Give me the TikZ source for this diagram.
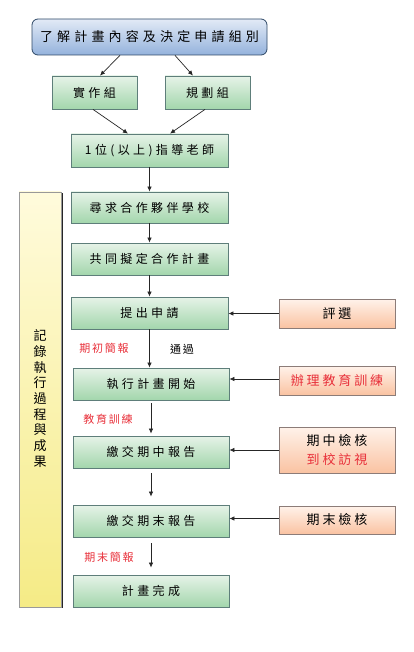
\documentclass[tikz,border=0pt]{standalone}
\usepackage{fontspec}
\usepackage{xcolor}
\usetikzlibrary{arrows.meta, positioning, shadows}
\newfontfamily\cjk{Noto Sans CJK TC}
\newfontfamily\cjkwide[LetterSpace=32]{Noto Sans CJK TC}
\newfontfamily\cjkmid[LetterSpace=22]{Noto Sans CJK TC}
\newfontfamily\cjkstep[LetterSpace=28]{Noto Sans CJK TC}
\newfontfamily\cjknarrow[LetterSpace=16]{Noto Sans CJK TC}
\definecolor{stepgreentop}{HTML}{E6F3E8}
\definecolor{stepgreenbot}{HTML}{A3D6AC}
\definecolor{stepgreenline}{HTML}{5E7E7A}
\definecolor{peachtop}{HTML}{FFF2EA}
\definecolor{peachbot}{HTML}{FAC3A2}
\definecolor{peachline}{HTML}{8C7C78}
\definecolor{bluetop}{HTML}{E2EAF6}
\definecolor{bluebot}{HTML}{94B2DC}
\definecolor{blueline}{HTML}{2E4866}
\definecolor{bartop}{HTML}{FFFBDC}
\definecolor{barbot}{HTML}{F5EB86}
\definecolor{notered}{HTML}{E8303A}

\begin{document}
\begin{tikzpicture}[
        x=1pt, y=-1pt,
        greenbox/.style={draw=stepgreenline, line width=0.8pt,
                         top color=stepgreentop, bottom color=stepgreenbot,
                         minimum height=32pt, inner sep=0pt,
                         font=\fontsize{12}{14}\cjkstep},
        peachbox/.style={draw=peachline, line width=0.8pt,
                         top color=peachtop, bottom color=peachbot,
                         minimum width=116pt, inner sep=0pt, align=center,
                         font=\fontsize{13}{19}\cjkmid},
        note/.style={font=\fontsize{11}{13}\cjknarrow, inner sep=0pt},
        arr/.style={-{Latex[length=5pt, width=4.5pt]}, line width=0.7pt, color=black!85}
      ]
      \useasboundingbox (0,0) rectangle (414,652);
      \node[draw=blueline, line width=0.8pt, rounded corners=6pt,
            top color=bluetop, bottom color=bluebot,
            minimum width=235pt, minimum height=36pt,
            font=\fontsize{13}{15}\cjkwide] (topic) at (149.5,37) {了解計畫內容及決定申請組別};
      \node[greenbox, minimum width=85pt, minimum height=33pt] (practice) at (94.5,92.5) {實作組};
      \node[greenbox, minimum width=85pt, minimum height=33pt] (design) at (207.5,92.5) {規劃組};
      \node[greenbox, minimum width=157pt, minimum height=33pt] (mentor) at (149.5,150.5) {1位(以上)指導老師};
      \node[greenbox, minimum width=157pt, minimum height=31pt] (partner) at (149.5,207.5) {尋求合作夥伴學校};
      \node[greenbox, minimum width=157pt] (coplan) at (149.5,259) {共同擬定合作計畫};
      \node[greenbox, minimum width=157pt] (apply) at (149.5,313) {提出申請};
      \node[greenbox, minimum width=156pt] (start) at (151,384) {執行計畫開始};
      \node[greenbox, minimum width=156pt] (midrep) at (151,452) {繳交期中報告};
      \node[greenbox, minimum width=156pt] (finrep) at (151,521) {繳交期末報告};
      \node[greenbox, minimum width=156pt] (done) at (151,591) {計畫完成};

      \node[peachbox, minimum height=29pt] (review) at (337,313.5) {評選};
      \node[peachbox, minimum height=29pt, text=notered] (training) at (337,380.5) {辦理教育訓練};
      \node[peachbox, minimum height=46pt] (midcheck) at (337,450) {期中檢核\\\textcolor{notered}{到校訪視}};
      \node[peachbox, minimum height=28pt] (fincheck) at (337,520) {期末檢核};

      \node[draw=black!40, line width=0.5pt, top color=bartop, bottom color=barbot,
            drop shadow={shadow xshift=1.6pt, shadow yshift=-1.2pt, opacity=1, fill=black!85},
            minimum width=42pt, minimum height=415pt, inner sep=0pt] (record) at (40,399.5) {};
      \node[align=center, font=\fontsize{13}{15.7}\cjk] (recordtext) at (40,398.5)
        {記\\錄\\執\\行\\過\\程\\與\\成\\果};

      \node[note, text=notered] (kickoff) at (104,348) {期初簡報};
      \node[note] (passed) at (182,349) {通過};
      \node[note, text=notered] (edu) at (108,419) {教育訓練};
      \node[note, text=notered] (closing) at (109,557) {期末簡報};

      \draw[arr] ([xshift=-29.5pt]topic.south) -- ([xshift=5.5pt]practice.north);
      \draw[arr] ([xshift=25.5pt]topic.south) -- ([xshift=-14.5pt]design.north);
      \draw[arr] ([xshift=-1.5pt]practice.south) -- ([xshift=-21.5pt]mentor.north);
      \draw[arr] ([xshift=-2.5pt]design.south) -- ([xshift=20.5pt]mentor.north);
      \draw[arr] (mentor.south) -- (partner.north);
      \draw[arr] (partner.south) -- (coplan.north);
      \draw[arr] (coplan.south) -- (apply.north);
      \draw[arr] (apply.south) -- (apply.south |- start.north);
      \draw[arr, shorten <=3pt, shorten >=2pt] (start.south) -- (midrep.north);
      \draw[arr, shorten <=5pt, shorten >=8pt] (midrep.south) -- (finrep.north);
      \draw[arr, shorten <=6pt, shorten >=7pt] (finrep.south) -- (done.north);

      \draw[arr] (review.west) -- (review.west -| apply.east);
      \draw[arr] ([yshift=1.5pt]training.west) -- ([yshift=1.5pt]training.west -| start.east);
      \draw[arr] (midcheck.west) -- (midcheck.west -| midrep.east);
      \draw[arr] ([yshift=1.5pt]fincheck.west) -- ([yshift=1.5pt]fincheck.west -| finrep.east);
    \end{tikzpicture}
\end{document}
